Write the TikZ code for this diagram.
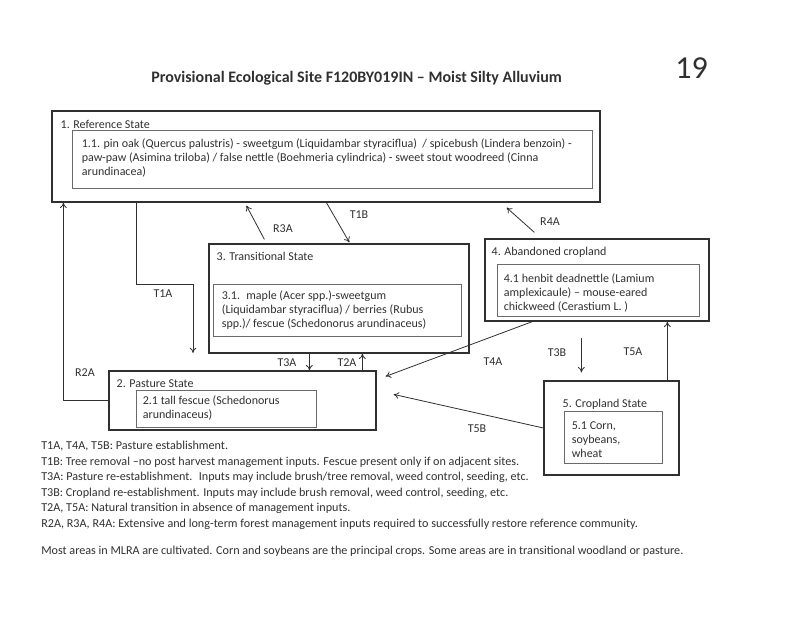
\documentclass[tikz,border=0pt]{standalone}
\usepackage{fontspec}
\setmainfont{Carlito}
\usepackage{xcolor}
\usetikzlibrary{positioning}
\usetikzlibrary{calc}
\usetikzlibrary{arrows.meta}
\definecolor{inkgray}{HTML}{303030}
\definecolor{boxgray}{HTML}{6A6A6A}
\newcommand{\pxu}{0.75pt}
\tikzset{
  statebox/.style={draw=inkgray, line width=0.9pt, inner sep=0pt},
  phasebox/.style={draw=boxgray, line width=0.6pt, inner sep=0pt},
  head/.style={anchor=mid west, inner sep=0pt, text=inkgray, font=\fontsize{9}{10.5}\selectfont},
  body/.style={anchor=north west, inner sep=0pt, align=left, text=inkgray, font=\fontsize{9}{10.6}\selectfont},
  lbl/.style={inner sep=0pt, text=inkgray, font=\fontsize{9}{10}\selectfont},
  arr/.style={draw=inkgray, line width=0.6pt, -{To[length=4pt,width=5pt]}},
}
\begin{document}
\begin{tikzpicture}[x=0.75pt,y=-0.75pt]
  \useasboundingbox (0,0) rectangle (800,617);
  % title and page number
  \node[inner sep=0pt, text=inkgray, font=\fontsize{12}{14}\selectfont\bfseries] (title) at (356.5,78)
    {Provisional Ecological Site F120BY019IN -- Moist Silty Alluvium};
  \node[inner sep=0pt, text=inkgray, font=\fontsize{24}{28}\selectfont] (page) at (691.5,68) {19};

  % state boxes
  \node[statebox, minimum width=548*\pxu, minimum height=91*\pxu] (ref) at (326,156.5) {};
  \node[phasebox, minimum width=520*\pxu, minimum height=58*\pxu] (refin) at (332,159) {};
  \node[statebox, minimum width=260*\pxu, minimum height=109*\pxu] (trans) at (339,298.5) {};
  \node[phasebox, minimum width=248*\pxu, minimum height=52*\pxu] (transin) at (337,310) {};
  \node[statebox, minimum width=224*\pxu, minimum height=82*\pxu] (aband) at (597,280) {};
  \node[phasebox, minimum width=202*\pxu, minimum height=52*\pxu] (abandin) at (598,290) {};
  \node[statebox, minimum width=267*\pxu, minimum height=59*\pxu] (past) at (242.5,400.5) {};
  \node[phasebox, minimum width=180*\pxu, minimum height=37*\pxu] (pastin) at (226,408.5) {};
  \node[statebox, minimum width=135*\pxu, minimum height=94*\pxu] (crop) at (611.5,428) {};
  \node[phasebox, minimum width=98*\pxu, minimum height=52*\pxu] (cropin) at (613,437) {};

  % state names
  \node[head] (refname) at ($(ref.north west)+(9,15)$) {1. Reference State};
  \node[head] (transname) at ($(trans.north west)+(8,14)$) {3. Transitional State};
  \node[head] (abandname) at ($(aband.north west)+(7,14)$) {4. Abandoned cropland};
  \node[head] (pastname) at ($(past.north west)+(8,14)$) {2. Pasture State};
  \node[head] (cropname) at ($(crop.north west)+(19,24)$) {5. Cropland State};

  % community phases
  \node[body] (reftxt) at ($(refin.north west)+(10,9)$)
    {1.1. pin oak (Quercus palustris) - sweetgum (Liquidambar styraciflua) \ / spicebush (Lindera benzoin) -\\
     paw-paw (Asimina triloba) / false nettle (Boehmeria cylindrica) - sweet stout woodreed (Cinna\\
     arundinacea)};
  \node[body] (transtxt) at ($(transin.north west)+(9,7)$)
    {3.1. \ maple (Acer spp.)-sweetgum\\
     (Liquidambar styraciflua) / berries (Rubus\\
     spp.)/ fescue (Schedonorus arundinaceus)};
  \node[body] (abandtxt) at ($(abandin.north west)+(7,9.5)$)
    {4.1 henbit deadnettle (Lamium\\
     amplexicaule) -- mouse-eared\\
     chickweed (Cerastium L. )};
  \node[body] (pasttxt) at ($(pastin.north west)+(7,6)$)
    {2.1 tall fescue (Schedonorus\\
     arundinaceus)};
  \node[body] (croptxt) at ($(cropin.north west)+(8,10.5)$)
    {5.1 Corn,\\
     soybeans,\\
     wheat};

  % transitions
  \coordinate (t1aend) at (193,353);
  \draw[arr] ($(ref.south west)+(85,0)$) -- ++(0,82) -| (t1aend);
  \draw[arr] (past.west) -| ($(ref.south west)+(12,0)$);
  \draw[arr] ($(trans.north west)+(56,-4)$) -- ($(ref.south west)+(195,3)$);
  \draw[arr] ($(ref.south west)+(275,0)$) -- ($(trans.north west)+(141,-1)$);
  \draw[arr] ($(trans.south west)+(101,0)$) -- ($(past.north west)+(201,0)$);
  \draw[arr] ($(past.north west)+(254,0)$) -- ($(trans.south west)+(154,0)$);
  \draw[arr] ($(aband.south west)+(48,0)$) -- ($(past.north east)+(9,6)$);
  \draw[arr] (crop.west) -- ($(past.north east)+(17,24)$);
  \draw[arr] ($(aband.south west)+(97,16)$) -- ($(crop.north west)+(38,-8)$);
  \draw[arr] ($(crop.north west)+(124,0)$) -- ($(aband.south west)+(183,0)$);
  \draw[arr] ($(aband.north west)+(50,-6)$) -- ($(ref.south east)+(-94,5)$);

  % transition labels
  \node[lbl] (t1a) at (163,294) {T1A};
  \node[lbl] (r2a) at (85,373) {R2A};
  \node[lbl] (r3a) at (283,229) {R3A};
  \node[lbl] (t1b) at (359,215) {T1B};
  \node[lbl] (t3a) at (287,363) {T3A};
  \node[lbl] (t2a) at (347,363) {T2A};
  \node[lbl] (t4a) at (493,362) {T4A};
  \node[lbl] (t3b) at (557,353) {T3B};
  \node[lbl] (t5a) at (633,352) {T5A};
  \node[lbl] (t5b) at (477,429) {T5B};
  \node[lbl] (r4a) at (550,222) {R4A};

  % legend
  \node[body, font=\fontsize{9.1}{11.6}\selectfont] (legend) at (41,441)
    {T1A, T4A, T5B: Pasture establishment.\\
     T1B: Tree removal --no post harvest management inputs. Fescue present only if on adjacent sites.\\
     T3A: Pasture re-establishment. \ Inputs may include brush/tree removal, weed control, seeding, etc.\\
     T3B: Cropland re-establishment. Inputs may include brush removal, weed control, seeding, etc.\\
     T2A, T5A: Natural transition in absence of management inputs.\\
     R2A, R3A, R4A: Extensive and long-term forest management inputs required to successfully restore reference community.};
  \node[head, font=\fontsize{9.1}{11}\selectfont] (note) at (41,551)
    {Most areas in MLRA are cultivated. Corn and soybeans are the principal crops. Some areas are in transitional woodland or pasture.};
\end{tikzpicture}
\end{document}
